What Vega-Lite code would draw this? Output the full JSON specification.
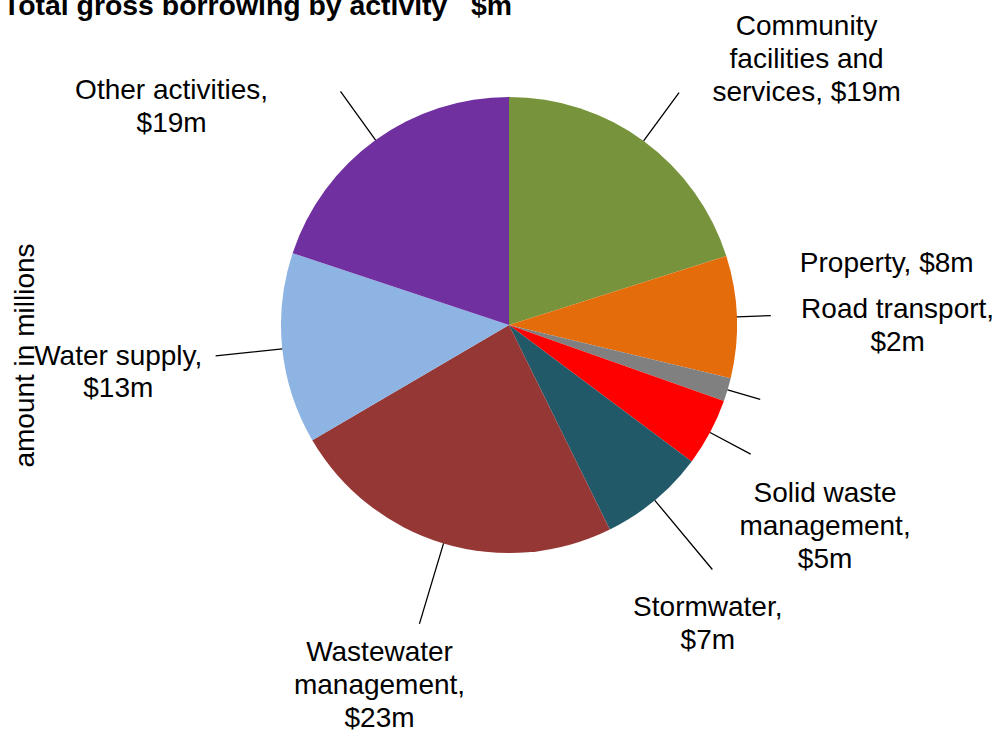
{
  "$schema": "https://vega.github.io/schema/vega-lite/v6.json",
  "width": 990,
  "height": 650,
  "autosize": {"type": "none"},
  "padding": {"left": 14, "top": 0, "right": 0, "bottom": 87},
  "background": "white",
  "config": {"view": {"stroke": null}, "font": "Liberation Sans"},
  "title": {
    "text": "Total gross borrowing by activity\u00a0\u00a0\u00a0$m",
    "anchor": "start",
    "frame": "group",
    "font": "Liberation Sans",
    "fontSize": 28.4,
    "fontWeight": "bold",
    "color": "black",
    "baseline": "alphabetic",
    "offset": -43,
    "dx": -11
  },
  "data": {
    "values": [
      {"activity": "Community facilities and services", "value": 19.3, "label": "Community\nfacilities and\nservices, $19m"},
      {"activity": "Property", "value": 8.3, "label": "Property, $8m"},
      {"activity": "Road transport", "value": 1.6, "label": "Road transport,\n$2m"},
      {"activity": "Solid waste management", "value": 4.6, "label": "Solid waste\nmanagement,\n$5m"},
      {"activity": "Stormwater", "value": 7.2, "label": "Stormwater,\n$7m"},
      {"activity": "Wastewater management", "value": 22.9, "label": "Wastewater\nmanagement,\n$23m"},
      {"activity": "Water supply", "value": 13.0, "label": "Water supply,\n$13m"},
      {"activity": "Other activities", "value": 19.1, "label": "Other activities,\n$19m"}
    ]
  },
  "transform": [{"stack": "value", "groupby": [], "as": ["v0", "v1"]}],
  "layer": [
    {
      "mark": {"type": "arc", "radius": 228},
      "encoding": {
        "theta": {"field": "v0", "type": "quantitative", "stack": null, "scale": {"domain": [0, 96], "zero": true}},
        "theta2": {"field": "v1"},
        "color": {
          "field": "activity",
          "type": "nominal",
          "scale": {
            "domain": ["Community facilities and services", "Property", "Road transport", "Solid waste management", "Stormwater", "Wastewater management", "Water supply", "Other activities"],
            "range": ["#77933C", "#E46C0A", "#808080", "#FF0000", "#215968", "#953735", "#8EB4E3", "#7030A0"]
          },
          "legend": null
        }
      }
    },
    {
      "mark": {"type": "point", "opacity": 0},
      "encoding": {
        "y": {
          "field": "value",
          "type": "quantitative",
          "axis": {
            "title": "amount in millions",
            "labels": false,
            "ticks": false,
            "domain": false,
            "grid": false,
            "titleX": 19,
            "titleY": 355,
            "titleAngle": 270,
            "titleAlign": "center",
            "titleBaseline": "alphabetic",
            "titleFont": "Liberation Sans",
            "titleFontSize": 28,
            "titleFontWeight": "normal",
            "titleColor": "black"
          }
        }
      }
    },
    {
      "transform": [
        {"fold": ["v0", "v1"], "as": ["bk", "bv"]},
        {"aggregate": [{"op": "mean", "field": "bv", "as": "mid"}], "groupby": ["activity", "label"]}
      ],
      "layer": [
        {
          "transform": [{"filter": "indexof(['Community facilities and services','Other activities'], datum.activity) >= 0"}],
          "mark": {"type": "arc", "radius": 288, "radius2": 228, "filled": false, "stroke": "black", "strokeWidth": 1.3},
          "encoding": {"theta": {"field": "mid", "type": "quantitative", "stack": null}, "theta2": {"field": "mid"}}
        },
        {
          "transform": [{"filter": "datum.activity === 'Water supply'"}],
          "mark": {"type": "arc", "radius": 295, "radius2": 228, "filled": false, "stroke": "black", "strokeWidth": 1.3},
          "encoding": {"theta": {"field": "mid", "type": "quantitative", "stack": null}, "theta2": {"field": "mid"}}
        },
        {
          "transform": [{"filter": "datum.activity === 'Wastewater management'"}],
          "mark": {"type": "arc", "radius": 312, "radius2": 228, "filled": false, "stroke": "black", "strokeWidth": 1.3},
          "encoding": {"theta": {"field": "mid", "type": "quantitative", "stack": null}, "theta2": {"field": "mid"}}
        },
        {
          "transform": [{"filter": "datum.activity === 'Stormwater'"}],
          "mark": {"type": "arc", "radius": 318, "radius2": 228, "filled": false, "stroke": "black", "strokeWidth": 1.3},
          "encoding": {"theta": {"field": "mid", "type": "quantitative", "stack": null}, "theta2": {"field": "mid"}}
        },
        {
          "transform": [{"filter": "indexof(['Property','Road transport'], datum.activity) >= 0"}],
          "mark": {"type": "arc", "radius": 262, "radius2": 228, "filled": false, "stroke": "black", "strokeWidth": 1.3},
          "encoding": {"theta": {"field": "mid", "type": "quantitative", "stack": null}, "theta2": {"field": "mid"}}
        },
        {
          "transform": [{"filter": "datum.activity === 'Solid waste management'"}],
          "mark": {"type": "arc", "radius": 274, "radius2": 228, "filled": false, "stroke": "black", "strokeWidth": 1.3},
          "encoding": {"theta": {"field": "mid", "type": "quantitative", "stack": null}, "theta2": {"field": "mid"}}
        },
        {
          "transform": [{"filter": "datum.activity === 'Community facilities and services'"}],
          "mark": {"type": "text", "radius": 228, "dx": 163, "dy": -128, "align": "center", "baseline": "top", "font": "Liberation Sans", "fontSize": 28, "lineBreak": "\n", "lineHeight": 33, "color": "black"},
          "encoding": {"theta": {"field": "mid", "type": "quantitative", "stack": null}, "text": {"field": "label"}}
        },
        {
          "transform": [{"filter": "datum.activity === 'Property'"}],
          "mark": {"type": "text", "radius": 228, "dx": 63, "dy": -67, "align": "left", "baseline": "top", "font": "Liberation Sans", "fontSize": 28, "lineBreak": "\n", "lineHeight": 33, "color": "black"},
          "encoding": {"theta": {"field": "mid", "type": "quantitative", "stack": null}, "text": {"field": "label"}}
        },
        {
          "transform": [{"filter": "datum.activity === 'Road transport'"}],
          "mark": {"type": "text", "radius": 228, "dx": 170, "dy": -94, "align": "center", "baseline": "top", "font": "Liberation Sans", "fontSize": 28, "lineBreak": "\n", "lineHeight": 33, "color": "black"},
          "encoding": {"theta": {"field": "mid", "type": "quantitative", "stack": null}, "text": {"field": "label"}}
        },
        {
          "transform": [{"filter": "datum.activity === 'Solid waste management'"}],
          "mark": {"type": "text", "radius": 228, "dx": 115, "dy": 48, "align": "center", "baseline": "top", "font": "Liberation Sans", "fontSize": 28, "lineBreak": "\n", "lineHeight": 33, "color": "black"},
          "encoding": {"theta": {"field": "mid", "type": "quantitative", "stack": null}, "text": {"field": "label"}}
        },
        {
          "transform": [{"filter": "datum.activity === 'Stormwater'"}],
          "mark": {"type": "text", "radius": 228, "dx": 53, "dy": 94, "align": "center", "baseline": "top", "font": "Liberation Sans", "fontSize": 28, "lineBreak": "\n", "lineHeight": 33, "color": "black"},
          "encoding": {"theta": {"field": "mid", "type": "quantitative", "stack": null}, "text": {"field": "label"}}
        },
        {
          "transform": [{"filter": "datum.activity === 'Wastewater management'"}],
          "mark": {"type": "text", "radius": 228, "dx": -64, "dy": 96, "align": "center", "baseline": "top", "font": "Liberation Sans", "fontSize": 28, "lineBreak": "\n", "lineHeight": 33, "color": "black"},
          "encoding": {"theta": {"field": "mid", "type": "quantitative", "stack": null}, "text": {"field": "label"}}
        },
        {
          "transform": [{"filter": "datum.activity === 'Water supply'"}],
          "mark": {"type": "text", "radius": 228, "dx": -164, "dy": -6, "align": "center", "baseline": "top", "font": "Liberation Sans", "fontSize": 28, "lineBreak": "\n", "lineHeight": 32, "color": "black"},
          "encoding": {"theta": {"field": "mid", "type": "quantitative", "stack": null}, "text": {"field": "label"}}
        },
        {
          "transform": [{"filter": "datum.activity === 'Other activities'"}],
          "mark": {"type": "text", "radius": 228, "dx": -204, "dy": -63, "align": "center", "baseline": "top", "font": "Liberation Sans", "fontSize": 28, "lineBreak": "\n", "lineHeight": 33, "color": "black"},
          "encoding": {"theta": {"field": "mid", "type": "quantitative", "stack": null}, "text": {"field": "label"}}
        }
      ]
    }
  ]
}
